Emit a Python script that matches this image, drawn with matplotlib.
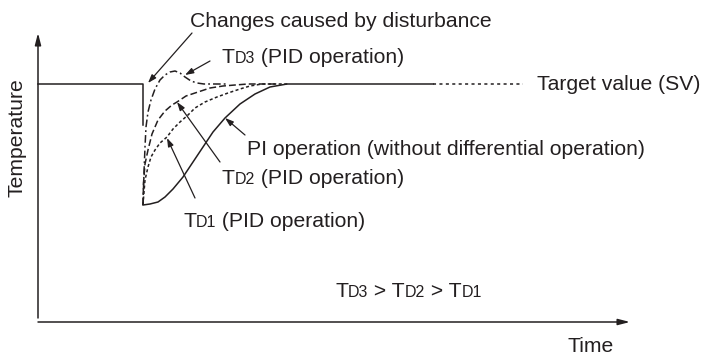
"""Temperature response to a disturbance: PI vs PID with different derivative times."""

import matplotlib.pyplot as plt

plt.rcParams["font.family"] = ["Liberation Sans", "DejaVu Sans"]

# Coordinates (time right, temperature up).
SV = 238

STEP_T = [0, 105, 105]
STEP_Y = [238, 238, 197]

PI_T = [105, 112, 120, 127, 135, 145, 155, 165, 175, 187, 202, 217, 232, 249, 300, 395]
PI_Y = [117, 118, 120, 125, 133, 145, 160, 175, 190, 204, 218, 228, 235, 238, 238, 238]

TD1_T = [105, 106, 107, 110, 113, 117, 122, 129, 135, 142, 150, 157, 167, 179, 190, 202, 212, 224, 250]
TD1_Y = [117, 130, 142, 155, 165, 172, 179, 185, 193, 200, 207, 214, 220, 225, 229, 233, 236, 238, 238]

TD2_T = [105, 105.5, 107, 110, 114, 120, 127, 134, 139, 148, 160, 172, 185, 197, 210, 240]
TD2_Y = [117, 139, 158, 172, 188, 202, 211, 217, 220, 226, 230, 234, 236, 237, 238, 238]

TD3_T = [105, 106, 107, 108, 110, 113, 117, 122, 127, 132, 137, 142, 147, 153, 159, 166, 175, 190]
TD3_Y = [117, 150, 175, 195, 210, 222, 233, 242, 247, 250, 251, 249, 245, 241, 239, 238, 238, 238]

SV_T = [395, 485]

fig = plt.figure(figsize=(7.12, 3.58), dpi=100)
ax = fig.add_axes([0, 0, 1, 1])
ax.set_xlim(-38, 674)
ax.set_ylim(-36, 322)
ax.axis("off")

lw = 1.1
ax.plot(STEP_T, STEP_Y, color="#231f20", lw=lw)
ax.plot(PI_T, PI_Y, color="#231f20", lw=lw)
ax.plot(TD1_T, TD1_Y, color="#231f20", lw=lw, dashes=(2, 1.6))
ax.plot(TD2_T, TD2_Y, color="#231f20", lw=lw, dashes=(4.5, 2))
ax.plot(TD3_T, TD3_Y, color="#231f20", lw=lw, dashes=(5, 2, 1.2, 2))
ax.plot(SV_T, [SV, SV], color="#231f20", lw=lw, dashes=(2, 2.2))

# axes with arrow heads
arrow = dict(arrowstyle="-|>,head_length=0.7,head_width=0.18", color="#231f20",
             lw=lw, shrinkA=0, shrinkB=0)
ax.annotate("", xy=(0, 289), xytext=(0, 4), arrowprops=arrow)
ax.annotate("", xy=(592, 0), xytext=(0, 0), arrowprops=arrow)

FS = 15.2
SUB = 11.5
TXT = "#231f20"


def label(x, y, parts):
    """Draw text pieces in a row; parts are (string, size)."""
    prev = None
    for s, size in parts:
        if prev is None:
            prev = ax.text(x, y, s, fontsize=size, color=TXT, ha="left", va="baseline")
        else:
            prev = ax.annotate(s, xy=(1, y), xycoords=(prev, "data"), fontsize=size,
                               color=TXT, ha="left", va="baseline")
    return prev


def td(n, rest):
    return [("T", FS), ("D" + n, SUB), (rest, FS)]


label(152, 295, [("Changes caused by disturbance", FS)])
label(184, 259, td("3", " (PID operation)"))
label(499, 232, [("Target value (SV)", FS)])
label(209, 167, [("PI operation (without differential operation)", FS)])
label(184, 138, td("2", " (PID operation)"))
label(145, 95, td("1", " (PID operation)"))
label(297, 25, [("T", FS), ("D3", SUB), (" > T", FS), ("D2", SUB), (" > T", FS), ("D1", SUB)])
label(529, -30, [("Time", FS)])
ax.text(-20.5, 184, "Temperature", fontsize=FS, color=TXT, rotation=90,
        ha="center", va="center")

# pointer arrows from labels to curves
ptr = dict(arrowstyle="-|>,head_length=0.5,head_width=0.17", color="#231f20",
           lw=0.9, shrinkA=0, shrinkB=0)
ax.annotate("", xy=(110, 239), xytext=(154, 289), arrowprops=ptr)
ax.annotate("", xy=(147, 247), xytext=(172, 261), arrowprops=ptr)
ax.annotate("", xy=(187, 204), xytext=(207, 187), arrowprops=ptr)
ax.annotate("", xy=(139, 220), xytext=(182, 160), arrowprops=ptr)
ax.annotate("", xy=(129, 184), xytext=(157, 124), arrowprops=ptr)

fig.savefig("out.png", dpi=100)
